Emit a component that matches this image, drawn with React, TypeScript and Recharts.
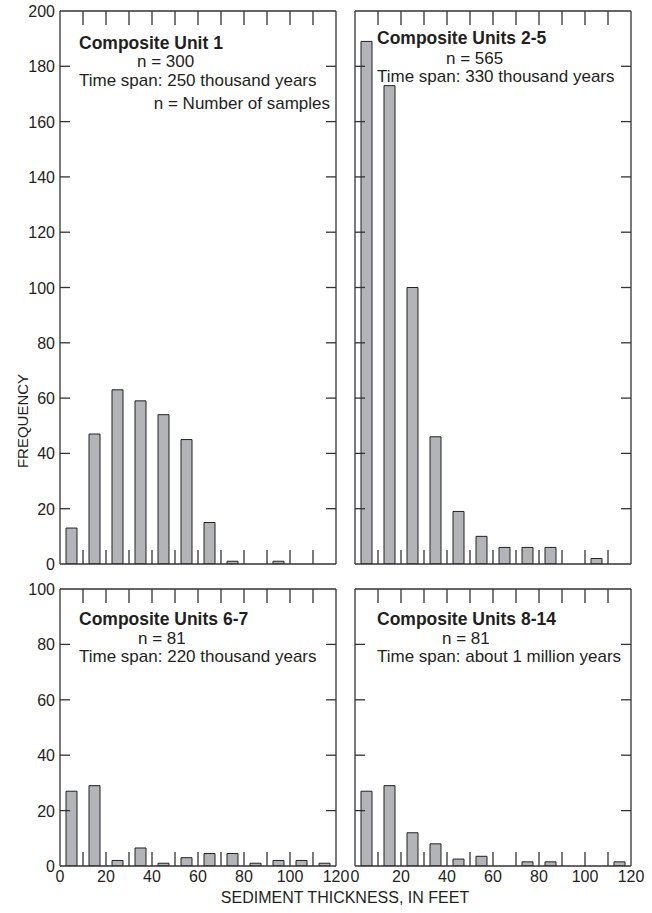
import React from "react";
import { Bar, ComposedChart, Line, XAxis, YAxis } from "recharts";

// 10-ft thickness bins, plotted at their midpoints
const BIN_MIDS = [5, 15, 25, 35, 45, 55, 65, 75, 85, 95, 105, 115];

const UNIT_1 = [13, 47, 63, 59, 54, 45, 15, 1, 0, 1, 0, 0];
const UNITS_2_5 = [189, 173, 100, 46, 19, 10, 6, 6, 6, 0, 2, 0];
const UNITS_6_7 = [27, 29, 2, 6.5, 1, 3, 4.5, 4.5, 1, 2, 2, 1];
const UNITS_8_14 = [27, 29, 12, 8, 2.5, 3.5, 0, 1.5, 1.5, 0, 0, 1.5];

const X_TICKS = [0, 10, 20, 30, 40, 50, 60, 70, 80, 90, 100, 110, 120];
const Y_TICKS_TALL = [0, 20, 40, 60, 80, 100, 120, 140, 160, 180, 200];
const Y_TICKS_SHORT = [0, 20, 40, 60, 80, 100];

const FRAME = "#333333";
const BAR_FILL = "#b3b4b8";
const FONT = "'Liberation Sans', Arial, sans-serif";
const TEXT = "#231f20";

const PLOT_W = 276;
const PAD_L = 60;
const PAD_T = 12;
const PAD_R = 24;
const PAD_B = 30;

type PanelProps = {
  left: number;
  top: number;
  height: number;
  values: number[];
  yMax: number;
  yTicks: number[];
  yLabels: boolean;
  xLabels: boolean;
};

function Panel({ left, top, height, values, yMax, yTicks, yLabels, xLabels }: PanelProps) {
  const data = BIN_MIDS.map((mid, i) => ({ mid, freq: values[i] }));
  const line = { stroke: FRAME, strokeWidth: 1.3 };

  const bottomTick = (p: any) => {
    const v = p.payload.value;
    return (
      <g>
        {v > 0 && v < 120 && <line x1={p.x} x2={p.x} y1={p.y} y2={p.y - 14} {...line} />}
        {xLabels && v % 20 === 0 && (
          <text x={p.x} y={p.y + 16} textAnchor="middle" fontSize={16} fontFamily={FONT} fill={TEXT}>
            {v}
          </text>
        )}
      </g>
    );
  };
  const topTick = (p: any) => {
    const v = p.payload.value;
    return v > 0 && v < 120 ? <line x1={p.x} x2={p.x} y1={p.y} y2={p.y + 14} {...line} /> : <g />;
  };
  const leftTick = (p: any) => {
    const v = p.payload.value;
    return (
      <g>
        {v > 0 && v < yMax && <line x1={p.x} x2={p.x + 10} y1={p.y} y2={p.y} {...line} />}
        {yLabels && (
          <text x={p.x - 5} y={p.y + 6} textAnchor="end" fontSize={16} fontFamily={FONT} fill={TEXT}>
            {v}
          </text>
        )}
      </g>
    );
  };
  const rightTick = (p: any) => {
    const v = p.payload.value;
    return v > 0 && v < yMax ? <line x1={p.x} x2={p.x - 10} y1={p.y} y2={p.y} {...line} /> : <g />;
  };

  return (
    <div style={{ position: "absolute", left: left - PAD_L, top: top - PAD_T }}>
      <ComposedChart
        width={PAD_L + PLOT_W + PAD_R}
        height={PAD_T + height + PAD_B}
        data={data}
        margin={{ top: PAD_T - 1, right: PAD_R - 1, bottom: 0, left: 0 }}
      >
        <XAxis
          dataKey="mid"
          type="number"
          domain={[0, 120]}
          ticks={X_TICKS}
          interval={0}
          height={PAD_B}
          tickSize={0}
          tickMargin={0}
          tickLine={false}
          axisLine={line}
          tick={bottomTick}
        />
        <XAxis
          xAxisId="top"
          orientation="top"
          dataKey="mid"
          type="number"
          domain={[0, 120]}
          ticks={X_TICKS}
          interval={0}
          height={1}
          tickSize={0}
          tickMargin={0}
          tickLine={false}
          axisLine={line}
          tick={topTick}
        />
        <YAxis
          type="number"
          domain={[0, yMax]}
          ticks={yTicks}
          interval={0}
          width={PAD_L}
          tickSize={0}
          tickMargin={0}
          tickLine={false}
          axisLine={line}
          tick={leftTick}
          allowDataOverflow
        />
        <YAxis
          yAxisId="right"
          orientation="right"
          type="number"
          domain={[0, yMax]}
          ticks={yTicks}
          interval={0}
          width={1}
          tickSize={0}
          tickMargin={0}
          tickLine={false}
          axisLine={line}
          tick={rightTick}
          allowDataOverflow
        />
        <Bar dataKey="freq" barSize={11} fill={BAR_FILL} stroke="#222" strokeWidth={1} isAnimationActive={false} />
        {/* unstroked series that keeps the top and right frame axes alive */}
        <Line
          xAxisId="top"
          yAxisId="right"
          dataKey="freq"
          stroke="none"
          dot={false}
          activeDot={false}
          legendType="none"
          isAnimationActive={false}
        />
      </ComposedChart>
    </div>
  );
}

type Note = { x: number; y: number; text: string; bold?: boolean; anchor?: "start" | "end" | "middle" };

const NOTES: Note[] = [
  { x: 79, y: 49, text: "Composite Unit 1", bold: true },
  { x: 137, y: 67, text: "n = 300" },
  { x: 79, y: 86, text: "Time span: 250 thousand years" },
  { x: 330, y: 109, text: "n = Number of samples", anchor: "end" },
  { x: 377, y: 44, text: "Composite Units 2-5", bold: true },
  { x: 446, y: 64, text: "n = 565" },
  { x: 377, y: 82, text: "Time span: 330 thousand years" },
  { x: 79, y: 625, text: "Composite Units 6-7", bold: true },
  { x: 138, y: 644, text: "n = 81" },
  { x: 79, y: 662, text: "Time span: 220 thousand years" },
  { x: 377, y: 625, text: "Composite Units 8-14", bold: true },
  { x: 442, y: 644, text: "n = 81" },
  { x: 377, y: 662, text: "Time span: about 1 million years" },
];

export default function App() {
  return (
    <div style={{ position: "absolute", left: 0, top: 0, width: 652, height: 913, background: "#fff" }}>
      <Panel left={60} top={11} height={553} values={UNIT_1} yMax={200} yTicks={Y_TICKS_TALL} yLabels xLabels={false} />
      <Panel left={355} top={11} height={553} values={UNITS_2_5} yMax={200} yTicks={Y_TICKS_TALL} yLabels={false} xLabels={false} />
      <Panel left={60} top={589} height={277} values={UNITS_6_7} yMax={100} yTicks={Y_TICKS_SHORT} yLabels xLabels />
      <Panel left={355} top={589} height={277} values={UNITS_8_14} yMax={100} yTicks={Y_TICKS_SHORT} yLabels={false} xLabels />
      <svg width={652} height={913} style={{ position: "absolute", left: 0, top: 0, pointerEvents: "none" }}>
        {NOTES.map((n) => (
          <text
            key={n.text + n.x + n.y}
            x={n.x}
            y={n.y}
            textAnchor={n.anchor ?? "start"}
            fontFamily={FONT}
            fontSize={n.bold ? 17.5 : 17}
            fontWeight={n.bold ? 700 : 400}
            fill={TEXT}
          >
            {n.text}
          </text>
        ))}
        <text
          x={28}
          y={421}
          transform="rotate(-90 28 421)"
          textAnchor="middle"
          fontFamily={FONT}
          fontSize={15}
          fill={TEXT}
        >
          FREQUENCY
        </text>
        <text x={345} y={903} textAnchor="middle" fontFamily={FONT} fontSize={16} fill={TEXT}>
          SEDIMENT THICKNESS, IN FEET
        </text>
      </svg>
    </div>
  );
}
